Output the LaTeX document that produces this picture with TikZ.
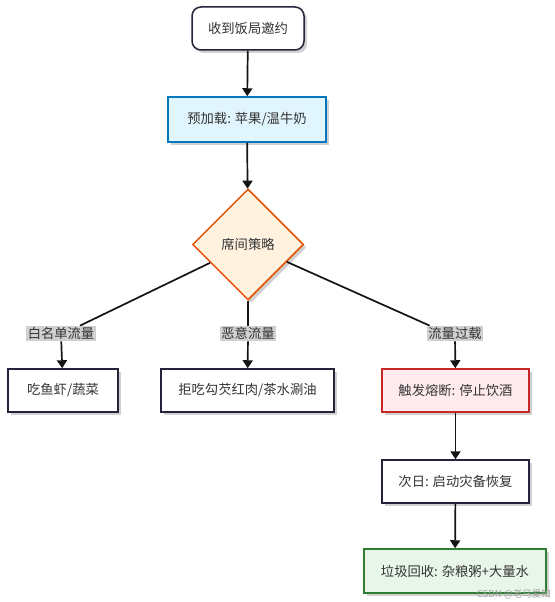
\documentclass[tikz,border=0pt]{standalone}
\usepackage{fontspec}
\setmainfont{Noto Sans CJK SC}
\usetikzlibrary{shapes.geometric,arrows.meta,shadows}
\definecolor{ink}{RGB}{51,51,51}
\definecolor{edge}{RGB}{20,20,20}
\definecolor{navy}{RGB}{35,35,60}
\definecolor{bluefill}{RGB}{225,245,254}
\definecolor{blueline}{RGB}{2,119,189}
\definecolor{orfill}{RGB}{255,243,224}
\definecolor{orline}{RGB}{230,81,0}
\definecolor{redfill}{RGB}{255,235,238}
\definecolor{redline}{RGB}{198,40,40}
\definecolor{grfill}{RGB}{232,245,233}
\definecolor{grline}{RGB}{46,125,50}
\definecolor{lblbg}{RGB}{208,208,208}
\tikzset{
  x=1pt, y=-1pt,
  every node/.style={font=\fontsize{13.3}{15}\selectfont, text=ink},
  shad/.style={drop shadow={shadow xshift=3pt, shadow yshift=-3pt, opacity=0.18, fill=black}},
  boxn/.style={draw=navy, line width=1.5pt, fill=white, minimum height=43pt, inner xsep=8pt, shad},
  conn/.style={draw=edge, line width=1.7pt, -{Triangle[length=8pt,width=10pt]}},
  plain/.style={draw=edge, line width=1.7pt},
  lbl/.style={fill=lblbg, inner sep=1.5pt, text=ink}
}
\begin{document}
\begin{tikzpicture}
\useasboundingbox (0,0) rectangle (554,602);
\fill[white] (0,0) rectangle (554,602);

\node[boxn, rounded corners=9pt, minimum width=112pt] (start) at (248,28.5) {收到饭局邀约};
\node[boxn, draw=blueline, fill=bluefill, minimum width=158pt, minimum height=45pt] (pre) at (247,119.5) {预加载: 苹果/温牛奶};
\node[diamond, draw=orline, fill=orfill, line width=1.5pt, minimum width=111pt, minimum height=111pt, inner sep=0pt, shad] (d) at (248,244.5) {席间策略};

\node[lbl] (l1) at (61,333.5) {白名单流量};
\node[lbl] (l2) at (248,333.5) {恶意流量};
\node[lbl] (l3) at (455,333.5) {流量过载};

\node[boxn, minimum width=110pt] (b1) at (63,390.5) {吃鱼虾/蔬菜};
\node[boxn, minimum width=173pt] (b2) at (247.5,390.5) {拒吃勾芡红肉/茶水涮油};
\node[boxn, draw=redline, fill=redfill, minimum width=147pt] (b3) at (455.5,390.5) {触发熔断: 停止饮酒};
\node[boxn, minimum width=147pt] (b4) at (455.5,481.5) {次日: 启动灾备恢复};
\node[boxn, draw=grline, fill=grfill, minimum width=182pt, minimum height=44pt] (b5) at (455,571) {垃圾回收: 杂粮粥+大量水};

\draw[conn] (start) -- (pre);
\draw[conn] (pre) -- (d);
\draw[plain] (d) -- ([xshift=19pt]l1.north);
\draw[plain] (d) -- (l2.north);
\draw[plain] (d) -- ([xshift=3pt]l3.north west);
\node[lbl] at (l1) {白名单流量};
\node[lbl] at (l2) {恶意流量};
\node[lbl] at (l3) {流量过载};
\draw[conn] (l1) -- (b1);
\draw[conn] (l2) -- (b2);
\draw[conn] (l3) -- (b3);
\draw[conn] (b3) -- (b4);
\draw[conn] (b4) -- (b5);

\node[font=\fontsize{9.5}{10}\selectfont, text=gray!75, anchor=south east, inner sep=1pt] (wm) at (552,600) {CSDN @老马爱知};
\end{tikzpicture}
\end{document}
